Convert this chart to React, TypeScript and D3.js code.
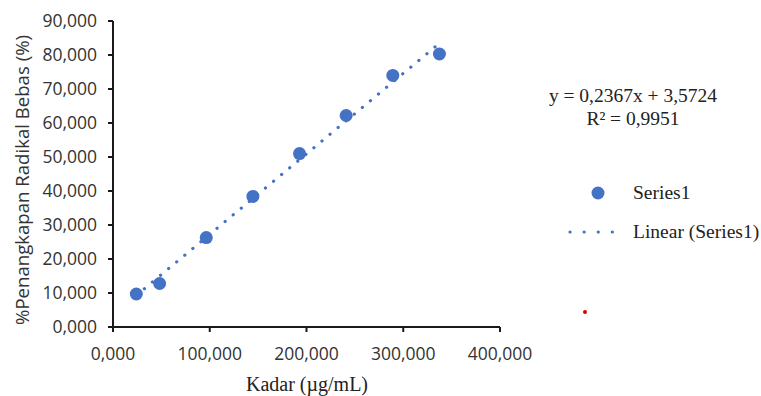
import React from "react";
import * as d3 from "d3";

const xValues = [24.1, 48.2, 96.4, 144.6, 192.8, 241.0, 289.2, 337.4];
const yValues = [9.7, 12.8, 26.3, 38.4, 51.0, 62.2, 74.0, 80.3];
const xTicks = [0, 100, 200, 300, 400];
const yTicks = [0, 10, 20, 30, 40, 50, 60, 70, 80, 90];
const slope = 0.2367;
const intercept = 3.5724;
const equationText = "y = 0,2367x + 3,5724";
const r2Label = "R² = 0,9951";
const seriesName = "Series1";
const trendName = "Linear (Series1)";
const xTitle = "Kadar (µg/mL)";
const yTitle = "%Penangkapan Radikal Bebas (%)";

const W = 761;
const H = 396;
const blue = "#4472C4";
const sans = "'Open Sans', 'Liberation Sans', sans-serif";
const serif = "'Liberation Serif', 'Times New Roman', serif";

const loc = d3.formatLocale({ decimal: ",", thousands: ".", grouping: [3], currency: ["", ""] });
const fmt = loc.format(".3f");

export default function App() {
  const x = d3.scaleLinear().domain([0, 400]).range([113, 500]);
  const y = d3.scaleLinear().domain([0, 90]).range([327, 21]);
  const x0 = d3.min(xValues)!;
  const x1 = d3.max(xValues)!;
  const line = d3.line<number>().x((d) => x(d)).y((d) => y(slope * d + intercept));
  const trendPath = line([x0, x1]) || "";
  const pts = xValues.map((v, i) => ({ x: v, y: yValues[i] }));
  const axisColor = "#1a1a1a";
  const labelColor = "#333";
  return (
    <svg width={W} height={H} style={{ position: "absolute", left: 0, top: 0, background: "#fff" }}>
      <rect width={W} height={H} fill="#fff" />
      {/* axes */}
      <line x1={x(0)} x2={x(400)} y1={y(0)} y2={y(0)} stroke={axisColor} strokeWidth={2} />
      <line x1={x(0)} x2={x(0)} y1={y(0)} y2={y(90)} stroke={axisColor} strokeWidth={2} />
      {yTicks.map((t) => (
        <g key={"y" + t}>
          <line x1={x(0) - 5} x2={x(0)} y1={y(t)} y2={y(t)} stroke={axisColor} strokeWidth={2} />
          <text x={97} y={y(t)} dy="0.35em" textAnchor="end" fontFamily={sans} fontSize={17.5} fill={labelColor}>
            {fmt(t)}
          </text>
        </g>
      ))}
      {xTicks.map((t) => (
        <g key={"x" + t}>
          <line x1={x(t)} x2={x(t)} y1={y(0)} y2={y(0) + 5} stroke={axisColor} strokeWidth={2} />
          <text x={x(t)} y={360} textAnchor="middle" fontFamily={sans} fontSize={17.5} fill={labelColor}>
            {fmt(t)}
          </text>
        </g>
      ))}
      <text x={307} y={391} textAnchor="middle" fontFamily={serif} fontSize={20} fill="#222">
        {xTitle}
      </text>
      <text
        transform={`translate(28.5,180) rotate(-90)`}
        textAnchor="middle"
        fontFamily={sans}
        fontSize={18.6}
        fill={labelColor}
      >
        {yTitle}
      </text>
      {/* trendline */}
      <path d={trendPath} fill="none" stroke={blue} strokeWidth={3.2} strokeLinecap="round" strokeDasharray="0.1 10.4" />
      {/* points */}
      {pts.map((p, i) => (
        <circle key={i} cx={x(p.x)} cy={y(p.y)} r={6.5} fill={blue} />
      ))}
      {/* equation */}
      <text x={633} y={102} textAnchor="middle" fontFamily={serif} fontSize={19.5} fill="#222">
        {equationText}
      </text>
      <text x={633} y={125} textAnchor="middle" fontFamily={serif} fontSize={19.5} fill="#222">
        {r2Label}
      </text>
      {/* legend */}
      <circle cx={598} cy={193} r={6.5} fill={blue} />
      <text x={633} y={199} fontFamily={serif} fontSize={19.5} fill="#222">
        {seriesName}
      </text>
      <line x1={570} x2={626} y1={232} y2={232} stroke={blue} strokeWidth={3.2} strokeLinecap="round" strokeDasharray="0.1 14" />
      <text x={633} y={238} fontFamily={serif} fontSize={19.5} fill="#222">
        {trendName}
      </text>
      <circle cx={585} cy={312} r={2} fill="#e00000" />
    </svg>
  );
}
